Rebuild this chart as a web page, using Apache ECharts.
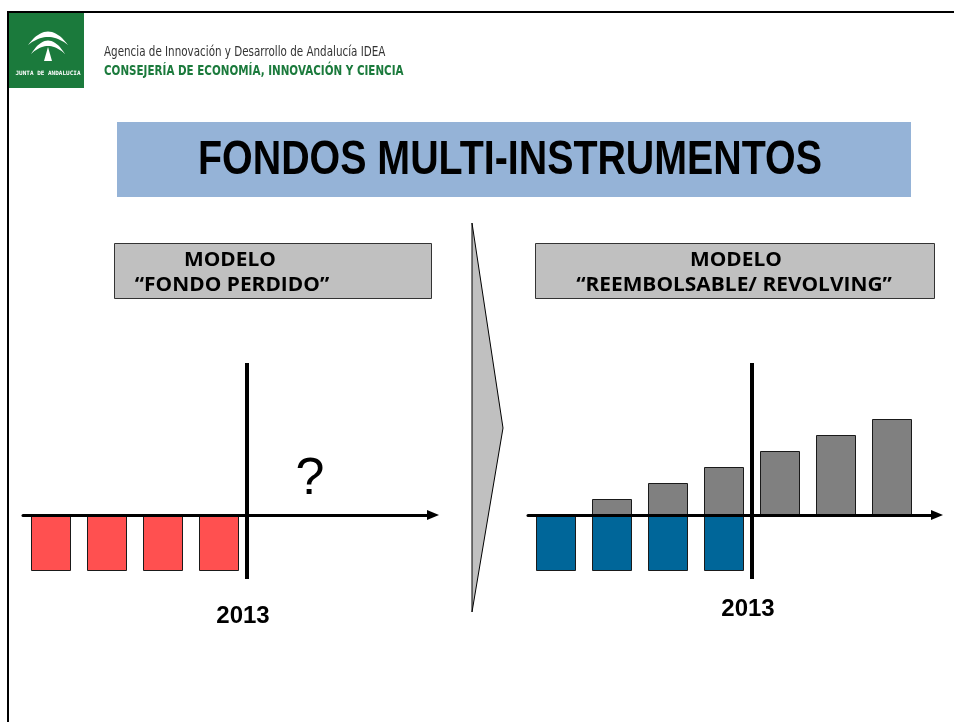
<!DOCTYPE html>
<html>
<head>
<meta charset="utf-8">
<script src="https://cdn.jsdelivr.net/npm/echarts@6/dist/echarts.min.js"></script>
<style>
  html, body { margin: 0; padding: 0; background: #fff; }
  #main { width: 954px; height: 722px; }
</style>
</head>
<body>
<div id="main"></div>
<script>
// periods along the time axis (slot index), 2013 sits between slot 4 and 5
const periods = [1, 2, 3, 4, 5, 6, 7];
const fondoPerdido = [-3.5, -3.5, -3.5, -3.5];
const aportaciones = [-3.5, -3.5, -3.5, -3.5];
const retornos = ['-', 1, 2, 3, 4, 5, 6];
const corte = 4;
const corteLabel = '2013';

const titulo = 'FONDOS MULTI-INSTRUMENTOS';
const cabecera1 = 'Agencia de Innovación y Desarrollo de Andalucía IDEA';
const cabecera2 = 'CONSEJERÍA DE ECONOMÍA, INNOVACIÓN Y CIENCIA';
const modeloIzq = ['MODELO', '“FONDO PERDIDO”'];
const modeloDer = ['MODELO', '“REEMBOLSABLE/ REVOLVING”'];

const toPoints = (vals) => vals.map((v, i) => [periods[i] - 0.5, v]);

// crescent outline for the logo (two quadratic curves)
function crescent(x0, x1, yEnd, cTop, cIn) {
  const pts = [];
  const xm = (x0 + x1) / 2;
  for (let i = 0; i <= 20; i++) {
    const t = i / 20;
    pts.push([(1 - t) * (1 - t) * x0 + 2 * t * (1 - t) * xm + t * t * x1,
              (1 - t) * (1 - t) * yEnd + 2 * t * (1 - t) * cTop + t * t * yEnd]);
  }
  for (let i = 19; i > 0; i--) {
    const t = i / 20;
    pts.push([(1 - t) * (1 - t) * x0 + 2 * t * (1 - t) * xm + t * t * x1,
              (1 - t) * (1 - t) * yEnd + 2 * t * (1 - t) * cIn + t * t * yEnd]);
  }
  return pts;
}

// text squeezed/stretched horizontally around its anchor
function label(text, x, y, font, fill, align, sx) {
  return {
    type: 'text', x: x, y: y, scaleX: sx || 1,
    style: { text: text, x: 0, y: 0, align: align || 'center', verticalAlign: 'middle', font: font, fill: fill || '#000' }
  };
}

const chart = echarts.init(document.getElementById('main'));

const slot = 56; // px per period
const grids = [
  { left: 23, top: 363, width: 410, height: 216 },
  { left: 528, top: 363, width: 409, height: 216 }
];

const xAxisFor = (i) => ({
  gridIndex: i,
  type: 'value',
  min: 0,
  max: grids[i].width / slot,
  z: 5,
  axisLine: {
    show: true,
    onZero: true,
    symbol: ['none', 'triangle'],
    symbolSize: [10, 12],
    lineStyle: { color: '#000', width: 3 }
  },
  axisTick: { show: false },
  axisLabel: { show: false },
  splitLine: { show: false }
});

const yAxisFor = (i) => ({
  gridIndex: i,
  type: 'value',
  min: -4,
  max: 9.5,
  show: false
});

const corteLine = {
  silent: true,
  symbol: 'none',
  label: { show: false },
  lineStyle: { color: '#000', width: 4, type: 'solid' },
  data: [{ xAxis: corte }]
};

const barBorder = { borderColor: '#1a1a1a', borderWidth: 1 };
const boxFont = 'bold 19px "Open Sans", sans-serif';
const headFont = '"DejaVu Sans", sans-serif';

option = {
  animation: false,
  backgroundColor: '#fff',
  grid: grids,
  xAxis: [xAxisFor(0), xAxisFor(1)],
  yAxis: [yAxisFor(0), yAxisFor(1)],
  series: [
    {
      type: 'bar',
      xAxisIndex: 0,
      yAxisIndex: 0,
      barWidth: 40,
      data: toPoints(fondoPerdido),
      itemStyle: Object.assign({ color: '#ff5050' }, barBorder),
      markLine: corteLine
    },
    {
      type: 'bar',
      xAxisIndex: 1,
      yAxisIndex: 1,
      barWidth: 40,
      barGap: '-100%',
      data: toPoints(aportaciones),
      itemStyle: Object.assign({ color: '#006699' }, barBorder),
      markLine: corteLine
    },
    {
      type: 'bar',
      xAxisIndex: 1,
      yAxisIndex: 1,
      barWidth: 40,
      barGap: '-100%',
      data: toPoints(retornos),
      itemStyle: Object.assign({ color: '#808080' }, barBorder)
    }
  ],
  graphic: [
    // slide frame
    { type: 'polyline', shape: { points: [[8, 722], [8, 12], [954, 12]] },
      style: { stroke: '#000', lineWidth: 2, fill: null } },
    // logo
    { type: 'rect', shape: { x: 9, y: 13, width: 75, height: 75 }, style: { fill: '#1b7a3c' } },
    { type: 'polygon', shape: { points: crescent(28, 68, 45, 18, 29) }, style: { fill: '#fff' } },
    { type: 'polygon', shape: { points: crescent(31, 65, 54, 27, 38) }, style: { fill: '#fff' } },
    { type: 'polygon', shape: { points: [[48, 47], [52, 61], [44, 61]] }, style: { fill: '#fff' } },
    label('JUNTA DE ANDALUCIA', 48, 73, 'bold 6px "DejaVu Sans Mono", monospace', '#fff'),
    // header
    label(cabecera1, 104, 52, '14px ' + headFont, '#333', 'left', 0.74),
    label(cabecera2, 104, 71, 'bold 14px ' + headFont, '#1b7a3c', 'left', 0.74),
    // title box
    { type: 'rect', shape: { x: 117, y: 122, width: 794, height: 75 }, style: { fill: '#95b3d7' } },
    label(titulo, 510, 161, 'bold 48px "Liberation Sans", Arial, sans-serif', '#000', 'center', 0.82),
    // model boxes
    { type: 'rect', shape: { x: 114.5, y: 243.5, width: 317, height: 55 },
      style: { fill: '#c0c0c0', stroke: '#333', lineWidth: 1 } },
    label(modeloIzq[0], 230, 261, boxFont, '#000', 'center', 1.1),
    label(modeloIzq[1], 232, 286, boxFont, '#000', 'center', 1.1),
    { type: 'rect', shape: { x: 535.5, y: 243.5, width: 399, height: 55 },
      style: { fill: '#c0c0c0', stroke: '#333', lineWidth: 1 } },
    label(modeloDer[0], 736, 261, boxFont, '#000', 'center', 1.1),
    label(modeloDer[1], 734, 286, boxFont, '#000', 'center', 1.1),
    // chevron
    { type: 'polygon', shape: { points: [[472, 223], [503, 428], [472, 612]] },
      style: { fill: '#c0c0c0', stroke: '#000', lineWidth: 1 } },
    // annotations
    label('?', 310, 480, '52px "Liberation Sans", Arial, sans-serif'),
    label(corteLabel, 243, 616, 'bold 24px "Liberation Sans", Arial, sans-serif'),
    label(corteLabel, 748, 609, 'bold 24px "Liberation Sans", Arial, sans-serif')
  ]
};

chart.setOption(option);
</script>
</body>
</html>
